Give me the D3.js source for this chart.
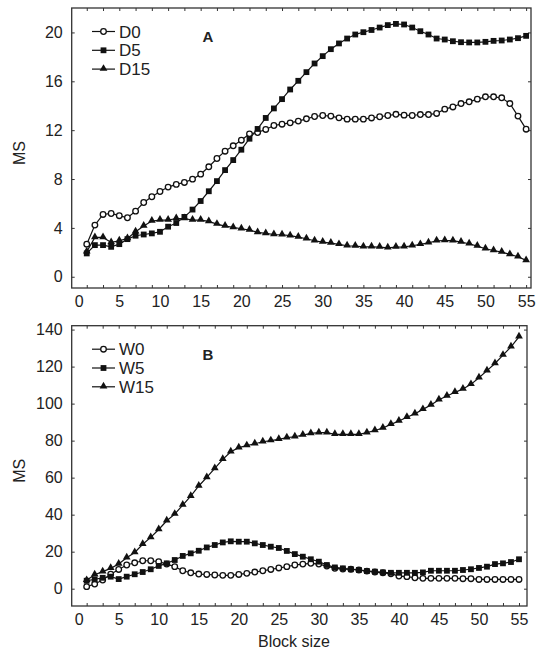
<!DOCTYPE html>
<html>
<head>
<meta charset="utf-8">
<script src="https://cdn.jsdelivr.net/npm/d3@7"></script>
<style>
  body { margin: 0; background: #fff; }
  text { font-family: "Liberation Sans", Arial, sans-serif; fill: #222; }
</style>
</head>
<body>
<script>
var blockSize = d3.range(1, 56);

var d0 = [2.67, 4.23, 5.1, 5.18, 5.0, 4.83, 5.37, 6.08, 6.55, 6.98, 7.34, 7.56, 7.72, 7.99, 8.4,
          9.0, 9.68, 10.28, 10.72, 11.18, 11.7, 11.81, 12.06, 12.38, 12.49, 12.6, 12.74, 12.93, 13.12, 13.2,
          13.15, 13.01, 12.9, 12.9, 12.9, 13.0, 13.1, 13.2, 13.3, 13.23, 13.2, 13.28, 13.28, 13.37, 13.72,
          13.9, 14.18, 14.32, 14.54, 14.73, 14.73, 14.65, 14.18, 13.15, 12.08];
var d5 = [1.91, 2.59, 2.59, 2.45, 2.67, 3.08, 3.36, 3.46, 3.55, 3.68, 4.1, 4.4, 4.9, 5.5, 6.2,
          7.0, 7.83, 8.73, 9.55, 10.4, 11.3, 12.1, 13.0, 13.78, 14.54, 15.33, 16.04, 16.75, 17.46, 18.06,
          18.63, 19.1, 19.5, 19.83, 20.02, 20.2, 20.4, 20.6, 20.7, 20.65, 20.4, 20.1, 19.83, 19.5, 19.42,
          19.28, 19.2, 19.18, 19.18, 19.23, 19.31, 19.34, 19.42, 19.53, 19.72];
var d15 = [2.05, 3.22, 3.22, 2.81, 2.95, 3.14, 3.68, 4.15, 4.56, 4.64, 4.64, 4.77, 4.77, 4.64, 4.64,
           4.53, 4.31, 4.15, 4.04, 3.93, 3.82, 3.63, 3.55, 3.46, 3.44, 3.36, 3.25, 3.11, 2.95, 2.84,
           2.76, 2.65, 2.54, 2.51, 2.45, 2.45, 2.43, 2.37, 2.43, 2.45, 2.54, 2.65, 2.78, 2.95, 2.97,
           2.95, 2.84, 2.7, 2.51, 2.29, 2.15, 2.02, 1.83, 1.64, 1.34];

var w0 = [1.1, 2.5, 4.7, 7.8, 10.4, 12.8, 14.0, 15.1, 15.1, 14.6, 13.3, 11.9, 9.7, 8.6, 7.9,
          7.7, 7.4, 7.2, 7.2, 7.7, 8.3, 9.0, 9.7, 10.4, 11.2, 11.9, 12.8, 13.3, 13.7, 13.3,
          12.2, 11.0, 10.6, 10.5, 10.1, 9.5, 9.0, 8.6, 8.1, 6.8, 6.5, 5.9, 5.6, 5.6, 5.6,
          5.6, 5.6, 5.4, 5.4, 5.0, 5.0, 5.0, 5.0, 5.0, 5.0];
var w5 = [4.3, 5.0, 5.9, 6.5, 5.2, 6.5, 7.8, 9.0, 10.5, 12.3, 13.7, 15.5, 17.7, 19.1, 20.5,
          22.3, 23.6, 25.0, 25.6, 25.4, 25.4, 24.5, 23.6, 22.7, 22.0, 20.4, 18.7, 17.3, 15.9, 14.6,
          12.8, 11.5, 11.0, 10.5, 10.1, 9.5, 9.2, 8.8, 8.6, 8.6, 8.6, 8.6, 8.8, 9.7, 9.7,
          9.7, 9.7, 10.1, 10.5, 11.2, 11.9, 13.3, 13.7, 14.4, 15.9];
var w15 = [4.5, 7.5, 9.2, 11.0, 13.3, 16.7, 19.6, 24.0, 27.7, 32.0, 36.7, 40.3, 45.2, 50.0, 55.5,
           60.1, 65.0, 69.9, 74.0, 76.2, 77.3, 78.3, 79.4, 80.0, 80.7, 81.6, 82.1, 83.0, 83.9, 84.3,
           84.3, 83.4, 83.4, 83.4, 83.4, 84.3, 85.5, 86.8, 88.8, 90.6, 92.6, 94.5, 96.9, 99.2, 102.1,
           104.1, 106.1, 107.9, 110.4, 114.0, 117.8, 121.7, 126.2, 130.7, 136.1];

var xTickLabels = d3.range(0, 56, 5);
var xMinorTicks = d3.range(1, 56, 2);
var yTicksA = [0, 4, 8, 12, 16, 20];
var yTicksB = [0, 20, 40, 60, 80, 100, 120, 140];

var seriesA = [
  {name: "D0", values: d0, marker: "circle"},
  {name: "D5", values: d5, marker: "square"},
  {name: "D15", values: d15, marker: "triangle"}
];
var seriesB = [
  {name: "W0", values: w0, marker: "circle"},
  {name: "W5", values: w5, marker: "square"},
  {name: "W15", values: w15, marker: "triangle"}
];

var W = 540, H = 651;
var svg = d3.select("body").append("svg").attr("width", W).attr("height", H);

function drawMarker(g, type, cx, cy) {
  if (type === "circle") {
    g.append("circle").attr("cx", cx).attr("cy", cy).attr("r", 2.8)
      .attr("fill", "#fff").attr("stroke", "#111").attr("stroke-width", 1.3);
  } else if (type === "square") {
    g.append("rect").attr("x", cx - 2.9).attr("y", cy - 2.9).attr("width", 5.8).attr("height", 5.8)
      .attr("fill", "#111");
  } else {
    g.append("path").attr("d", d3.symbol().type(d3.symbolTriangle).size(26)())
      .attr("transform", "translate(" + cx + "," + (cy - 0.5) + ")").attr("fill", "#111");
  }
}

function panel(opts) {
  var x = d3.scaleLinear().domain(opts.xDomain).range([opts.left, opts.right]);
  var y = d3.scaleLinear().domain(opts.yDomain).range([opts.bottom, opts.top]);
  var g = svg.append("g");

  // inward ticks on all four sides
  g.append("g").attr("transform", "translate(0," + opts.bottom + ")")
    .call(d3.axisBottom(x).tickValues(xMinorTicks).tickSize(-3).tickFormat(""));
  g.append("g").attr("transform", "translate(0," + opts.top + ")")
    .call(d3.axisTop(x).tickValues(xMinorTicks).tickSize(-3).tickFormat(""));
  g.append("g").attr("transform", "translate(" + opts.left + ",0)")
    .call(d3.axisLeft(y).tickValues(opts.yTicks).tickSize(-3).tickFormat(""));
  g.append("g").attr("transform", "translate(" + opts.right + ",0)")
    .call(d3.axisRight(y).tickValues(opts.yTicks).tickSize(-3).tickFormat(""));
  g.selectAll(".domain").remove();
  g.selectAll(".tick line").attr("stroke", "#333").attr("stroke-width", 1);

  // tick labels
  var xl = g.append("g").attr("transform", "translate(0," + opts.bottom + ")")
    .call(d3.axisBottom(x).tickValues(xTickLabels).tickSize(0).tickPadding(0));
  xl.select(".domain").remove();
  xl.selectAll("text").attr("dy", null).attr("y", 18.5).attr("font-size", 16)
    .attr("font-family", "Liberation Sans, Arial, sans-serif").attr("fill", "#222");
  var yl = g.append("g").attr("transform", "translate(" + opts.left + ",0)")
    .call(d3.axisLeft(y).tickValues(opts.yTicks).tickSize(0).tickPadding(9));
  yl.select(".domain").remove();
  yl.selectAll("text").attr("font-size", 16)
    .attr("font-family", "Liberation Sans, Arial, sans-serif").attr("fill", "#222");

  // frame
  g.append("rect").attr("x", opts.left).attr("y", opts.top)
    .attr("width", opts.right - opts.left).attr("height", opts.bottom - opts.top)
    .attr("fill", "none").attr("stroke", "#333").attr("stroke-width", 1.3);

  g.append("text").attr("transform", "translate(" + 25 + "," + ((opts.top + opts.bottom) / 2 + 5) + ") rotate(-90)")
    .attr("text-anchor", "middle").attr("font-size", 16).text("MS");

  g.append("text").attr("x", 208).attr("y", opts.top + 34).attr("text-anchor", "middle")
    .attr("font-size", 15).attr("font-weight", "bold").text(opts.label);

  var line = d3.line().x(function(d, i) { return x(blockSize[i]); }).y(function(d) { return y(d); });

  opts.series.forEach(function(s) {
    g.append("path").datum(s.values).attr("d", line)
      .attr("fill", "none").attr("stroke", "#111").attr("stroke-width", 1.2);
  });
  opts.series.forEach(function(s) {
    var mg = g.append("g");
    s.values.forEach(function(v, i) { drawMarker(mg, s.marker, x(blockSize[i]), y(v)); });
  });

  // legend
  opts.series.forEach(function(s, i) {
    var ly = opts.top + 23.5 + i * 18.8;
    var lg = g.append("g");
    lg.append("line").attr("x1", 92).attr("x2", 115).attr("y1", ly).attr("y2", ly)
      .attr("stroke", "#111").attr("stroke-width", 1.2);
    drawMarker(lg, s.marker, 103.5, ly);
    lg.append("text").attr("x", 119).attr("y", ly + 6).attr("font-size", 17).text(s.name);
  });
}

panel({left: 71.7, right: 531, top: 8, bottom: 288,
       xDomain: [-0.85, 55.6], yDomain: [-0.92, 22],
       yTicks: yTicksA, series: seriesA, label: "A"});
panel({left: 71.7, right: 527, top: 325.7, bottom: 606,
       xDomain: [-0.87, 56.0], yDomain: [-9.35, 142.1],
       yTicks: yTicksB, series: seriesB, label: "B"});

svg.append("text").attr("x", 294).attr("y", 647).attr("text-anchor", "middle")
  .attr("font-size", 16).text("Block size");
</script>
</body>
</html>
